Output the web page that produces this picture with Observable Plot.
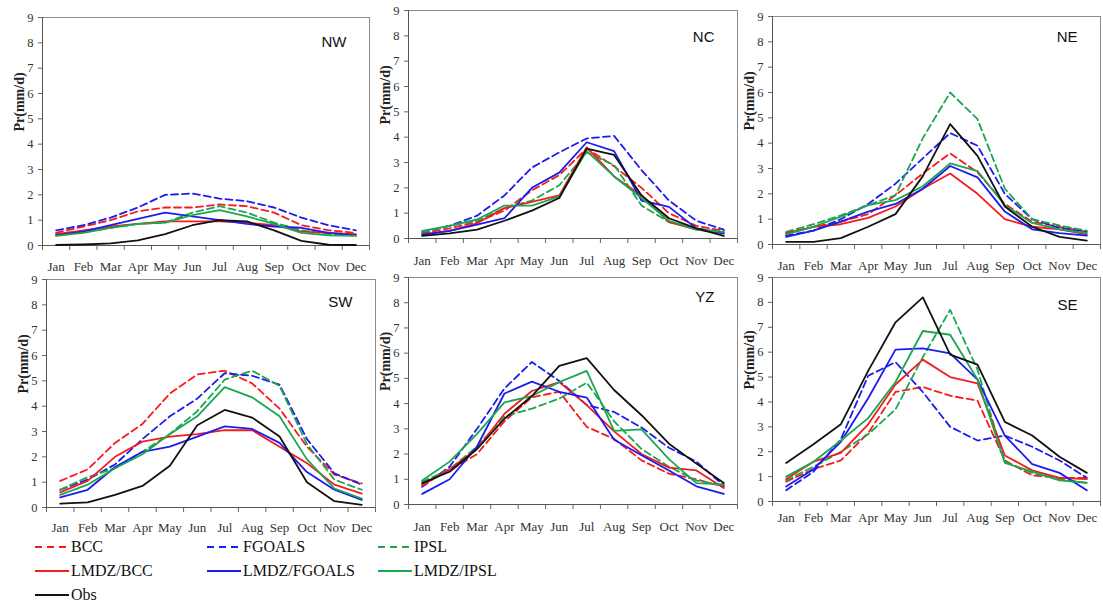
<!DOCTYPE html>
<html><head><meta charset="utf-8">
<script src="https://cdn.jsdelivr.net/npm/d3@7"></script>
<script src="https://cdn.jsdelivr.net/npm/@observablehq/plot@0.6"></script>
<style>
html,body{margin:0;padding:0;background:#fff;}
#chart{position:relative;width:1103px;height:610px;overflow:hidden;font-family:"Liberation Serif","Times New Roman","DejaVu Serif","Noto Serif",serif;}
.panel{position:absolute;}
.legend-item{position:absolute;display:flex;align-items:center;font-size:16px;color:#111;height:20px;line-height:20px;font-family:"Liberation Serif","Times New Roman","DejaVu Serif",serif;}
.legend-item svg{display:block;margin-right:2px;}
</style></head><body><div id="chart"></div>
<script>
const months = ["Jan","Feb","Mar","Apr","May","Jun","Jul","Aug","Sep","Oct","Nov","Dec"];
const yTicks = [0,1,2,3,4,5,6,7,8,9];
const seriesNames = ["BCC","FGOALS","IPSL","LMDZ/BCC","LMDZ/FGOALS","LMDZ/IPSL","Obs"];
const seriesColors = ["#f41c1c","#1c1cf0","#1ba650","#f41c1c","#1c1cf0","#1ba650","#111111"];
const seriesDashed = [true,true,true,false,false,false,false];
const regions = ["NW","NC","NE","SW","YZ","SE"];

// NW
const NW_BCC        = [0.5,0.75,1.0,1.35,1.5,1.5,1.62,1.55,1.3,0.8,0.6,0.5];
const NW_FGOALS     = [0.6,0.8,1.1,1.5,2.0,2.05,1.85,1.75,1.5,1.1,0.8,0.6];
const NW_IPSL       = [0.4,0.55,0.7,0.85,0.9,1.3,1.55,1.3,0.9,0.6,0.45,0.4];
const NW_LMDZ_BCC   = [0.45,0.6,0.75,0.85,0.95,0.95,0.95,0.9,0.8,0.55,0.5,0.45];
const NW_LMDZ_FGOALS= [0.4,0.55,0.8,1.05,1.3,1.15,1.0,0.85,0.75,0.7,0.5,0.4];
const NW_LMDZ_IPSL  = [0.38,0.5,0.7,0.85,0.9,1.2,1.4,1.15,0.85,0.5,0.4,0.38];
const NW_OBS        = [0.02,0.04,0.08,0.2,0.45,0.8,1.0,0.95,0.6,0.18,0.03,0.02];
// NC
const NC_BCC        = [0.2,0.4,0.65,1.1,1.9,2.5,3.55,2.85,2.0,1.0,0.5,0.3];
const NC_FGOALS     = [0.25,0.5,0.9,1.7,2.8,3.4,3.95,4.05,2.7,1.5,0.7,0.35];
const NC_IPSL       = [0.25,0.5,0.7,1.2,1.5,2.1,3.4,2.9,1.3,0.65,0.4,0.25];
const NC_LMDZ_BCC   = [0.15,0.3,0.6,1.2,1.45,1.7,3.6,2.45,1.7,0.65,0.35,0.2];
const NC_LMDZ_FGOALS= [0.15,0.3,0.55,0.8,2.0,2.6,3.8,3.45,1.5,1.25,0.4,0.2];
const NC_LMDZ_IPSL  = [0.3,0.5,0.75,1.3,1.3,1.65,3.45,2.45,1.6,0.7,0.35,0.25];
const NC_OBS        = [0.1,0.2,0.35,0.7,1.1,1.6,3.55,3.3,1.7,0.8,0.4,0.1];
// NE
const NE_BCC        = [0.45,0.7,0.9,1.2,1.95,2.8,3.6,2.85,1.6,0.9,0.7,0.5];
const NE_FGOALS     = [0.35,0.55,1.0,1.6,2.4,3.4,4.4,3.9,2.0,1.0,0.65,0.5];
const NE_IPSL       = [0.5,0.8,1.15,1.55,1.95,4.2,6.0,4.95,2.2,1.0,0.75,0.55];
const NE_LMDZ_BCC   = [0.45,0.7,0.8,1.05,1.5,2.2,2.8,2.0,1.0,0.7,0.6,0.4];
const NE_LMDZ_FGOALS= [0.3,0.55,0.9,1.3,1.6,2.2,3.1,2.65,1.3,0.6,0.45,0.35];
const NE_LMDZ_IPSL  = [0.4,0.7,1.1,1.55,1.75,2.3,3.2,2.9,1.55,0.85,0.6,0.45];
const NE_OBS        = [0.1,0.1,0.25,0.7,1.2,2.7,4.75,3.5,1.5,0.7,0.3,0.15];
// SW
const SW_BCC        = [1.05,1.5,2.55,3.3,4.5,5.25,5.4,4.9,3.9,2.4,1.3,0.95];
const SW_FGOALS     = [0.7,1.1,1.7,2.7,3.6,4.3,5.3,5.2,4.85,2.7,1.35,0.9];
const SW_IPSL       = [0.7,1.2,1.55,2.2,2.9,3.8,5.05,5.4,4.8,2.5,1.1,0.7];
const SW_LMDZ_BCC   = [0.6,1.05,2.0,2.6,2.8,2.9,3.05,3.05,2.4,1.75,0.9,0.55];
const SW_LMDZ_FGOALS= [0.4,0.7,1.6,2.2,2.4,2.8,3.2,3.1,2.55,1.4,0.7,0.3];
const SW_LMDZ_IPSL  = [0.5,0.9,1.55,2.1,2.9,3.6,4.75,4.35,3.6,1.9,0.75,0.35];
const SW_OBS        = [0.15,0.2,0.5,0.85,1.65,3.25,3.85,3.55,2.8,1.0,0.25,0.1];
// YZ
const YZ_BCC        = [0.8,1.35,2.0,3.3,4.25,4.47,3.08,2.6,1.75,1.22,1.0,0.7];
const YZ_FGOALS     = [0.7,1.5,3.0,4.6,5.65,4.9,3.95,3.67,3.05,2.25,1.7,0.75];
const YZ_IPSL       = [0.9,1.4,2.3,3.5,3.8,4.2,4.83,3.3,2.2,1.5,0.95,0.75];
const YZ_LMDZ_BCC   = [0.75,1.4,2.2,3.6,4.5,4.85,3.94,2.9,2.0,1.46,1.35,0.65];
const YZ_LMDZ_FGOALS= [0.42,1.0,2.3,4.4,4.87,4.47,4.24,2.57,1.95,1.35,0.72,0.42];
const YZ_LMDZ_IPSL  = [0.95,1.7,2.8,4.05,4.3,4.85,5.3,2.92,2.98,1.8,0.85,0.8];
const YZ_OBS        = [0.85,1.3,2.2,3.4,4.3,5.5,5.8,4.54,3.54,2.41,1.62,0.85];
// SE
const SE_BCC        = [0.8,1.3,1.65,2.75,4.4,4.6,4.25,4.05,1.65,1.05,0.95,0.95];
const SE_FGOALS     = [0.45,1.2,2.5,5.05,5.6,4.4,3.0,2.45,2.65,2.2,1.65,0.95];
const SE_IPSL       = [0.85,1.4,2.0,2.7,3.7,5.8,7.7,5.3,1.6,1.15,0.9,0.75];
const SE_LMDZ_BCC   = [0.9,1.6,1.95,3.1,4.7,5.7,5.0,4.75,1.85,1.25,0.95,0.9];
const SE_LMDZ_FGOALS= [0.6,1.3,2.4,4.15,6.1,6.15,5.95,4.9,2.65,1.5,1.15,0.45];
const SE_LMDZ_IPSL  = [1.0,1.6,2.45,3.35,4.8,6.85,6.7,4.9,1.55,1.2,0.85,0.75];
const SE_OBS        = [1.55,2.3,3.1,5.25,7.2,8.2,5.9,5.5,3.2,2.65,1.8,1.15];

const regionSeries = {
  NW: [NW_BCC,NW_FGOALS,NW_IPSL,NW_LMDZ_BCC,NW_LMDZ_FGOALS,NW_LMDZ_IPSL,NW_OBS],
  NC: [NC_BCC,NC_FGOALS,NC_IPSL,NC_LMDZ_BCC,NC_LMDZ_FGOALS,NC_LMDZ_IPSL,NC_OBS],
  NE: [NE_BCC,NE_FGOALS,NE_IPSL,NE_LMDZ_BCC,NE_LMDZ_FGOALS,NE_LMDZ_IPSL,NE_OBS],
  SW: [SW_BCC,SW_FGOALS,SW_IPSL,SW_LMDZ_BCC,SW_LMDZ_FGOALS,SW_LMDZ_IPSL,SW_OBS],
  YZ: [YZ_BCC,YZ_FGOALS,YZ_IPSL,YZ_LMDZ_BCC,YZ_LMDZ_FGOALS,YZ_LMDZ_IPSL,YZ_OBS],
  SE: [SE_BCC,SE_FGOALS,SE_IPSL,SE_LMDZ_BCC,SE_LMDZ_FGOALS,SE_LMDZ_IPSL,SE_OBS]
};

// layout (plot-area position in page pixels)
const layout = {
  NW: {px:42,  py:17,  w:327, h:228, ml:42, mt:10, mb:34, lg:16,   ldy:25},
  NC: {px:408, py:10,  w:329, h:228, ml:36, mt:8,  mb:34, lg:17.5, ldy:27},
  NE: {px:772, py:16,  w:328, h:228, ml:36, mt:8,  mb:34, lg:16,   ldy:21},
  SW: {px:46,  py:279, w:329, h:228, ml:46, mt:8,  mb:34, lg:15.5, ldy:23},
  YZ: {px:408, py:277, w:329, h:227, ml:36, mt:8,  mb:34, lg:17,   ldy:20},
  SE: {px:772, py:277, w:328, h:224, ml:36, mt:8,  mb:34, lg:11,   ldy:28}
};
const MR = 14;
const serif = "'Liberation Serif','Times New Roman','DejaVu Serif','Noto Serif',serif";

const chart = document.getElementById("chart");
const monthPos = d3.range(1, 13);
const monthEdges = d3.range(0.5, 13, 1);

for (const region of regions) {
  const L = layout[region];
  const rows = [];
  regionSeries[region].forEach((vals, si) => {
    vals.forEach((v, mi) => rows.push({series: seriesNames[si], m: mi + 1, v}));
  });
  const lineFor = (name) => {
    const i = seriesNames.indexOf(name);
    return Plot.line(rows.filter(d => d.series === name), {
      x: "m", y: "v", stroke: seriesColors[i], strokeWidth: 1.8,
      strokeDasharray: seriesDashed[i] ? "7,4" : null
    });
  };
  const svg = Plot.plot({
    width: L.ml + L.w + MR, height: L.mt + L.h + L.mb,
    marginLeft: L.ml, marginRight: MR, marginTop: L.mt, marginBottom: L.mb,
    style: {background: "transparent", color: "#333", fontFamily: serif, overflow: "visible"},
    x: {type: "linear", domain: [0.5, 12.5]},
    y: {domain: [0, 9]},
    marks: [
      Plot.frame({stroke: "#8c8c8c", strokeWidth: 1}),
      Plot.axisY({ticks: yTicks, tickSize: 4, tickPadding: 5, fontSize: 12.5, fontFamily: serif, label: null, stroke: "#666"}),
      Plot.axisX({ticks: monthEdges, tickSize: 5, tickFormat: () => "", label: null, stroke: "#666"}),
      Plot.axisX({ticks: monthPos, tickSize: 0, tickPadding: L.lg, tickFormat: i => months[i - 1], fontSize: 13, fontFamily: serif, label: null}),
      Plot.ruleY([0], {stroke: "#555"}),
      Plot.ruleX([0.5], {stroke: "#555"}),
      Plot.text(["Pr(mm/d)"], {frameAnchor: "left", dx: -23, rotate: -90, fontWeight: "bold", fontSize: 14, fontFamily: serif, fill: "#222"}),
      Plot.text([region], {frameAnchor: "top-right", dx: -23, dy: L.ldy, textAnchor: "end", lineAnchor: "middle",
        fontFamily: "'Liberation Sans',Arial,sans-serif", fontSize: 15, fill: "#111"}),
      ...seriesNames.map(lineFor)
    ]
  });
  svg.classList.add("panel");
  svg.style.position = "absolute";
  svg.style.left = (L.px - L.ml) + "px";
  svg.style.top = (L.py - L.mt) + "px";
  svg.style.maxWidth = "none";
  chart.appendChild(svg);
}

// legend
const legendCols = [35, 207, 378];
const legendRows = [547, 571, 595];
seriesNames.forEach((name, i) => {
  const item = document.createElement("div");
  item.className = "legend-item";
  item.style.left = legendCols[i % 3] + "px";
  item.style.top = (legendRows[Math.floor(i / 3)] - 10) + "px";
  const dash = seriesDashed[i] ? ' stroke-dasharray="7,5"' : "";
  item.innerHTML = `<svg width="34" height="10"><line x1="0" y1="5" x2="34" y2="5" stroke="${seriesColors[i]}" stroke-width="2.2"${dash}/></svg><span>${name}</span>`;
  chart.appendChild(item);
});
</script></body></html>
